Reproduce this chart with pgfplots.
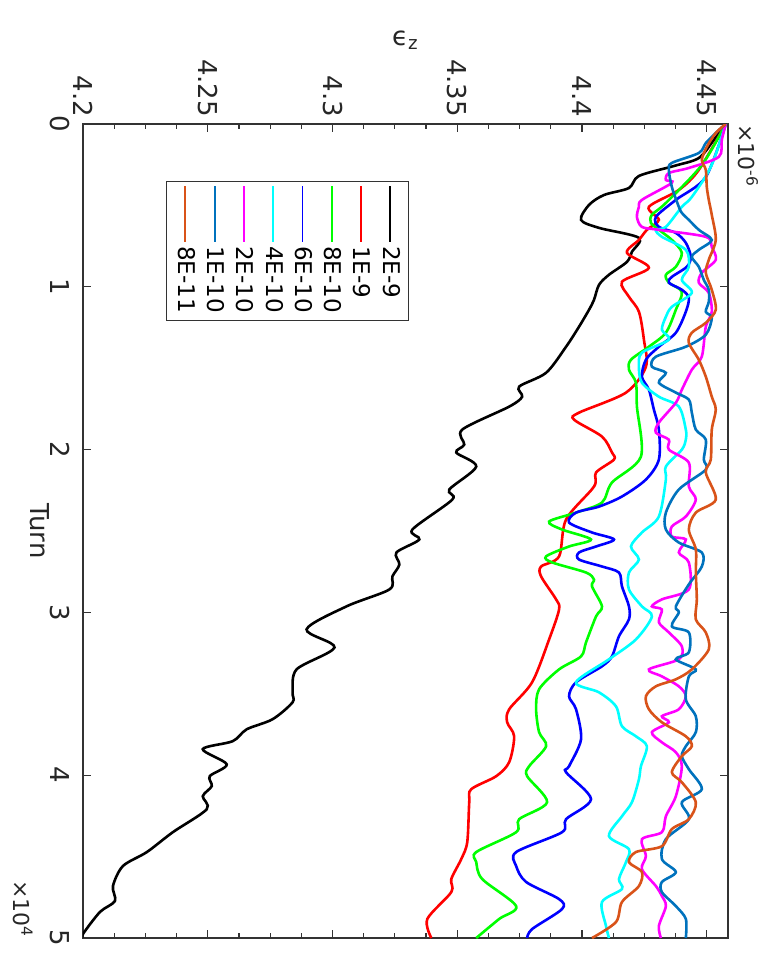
\documentclass[border=0pt]{standalone}
\usepackage{fontspec}
\setmainfont{DejaVu Sans}
\usepackage{graphicx}
\usepackage{pgfplots}
\pgfplotsset{compat=1.18}
\definecolor{mblue}{rgb}{0,0.447,0.741}
\definecolor{morange}{rgb}{0.85,0.325,0.098}
\definecolor{pcyan}{rgb}{0,1,1}
\definecolor{pmagenta}{rgb}{1,0,1}
\definecolor{pgreen}{rgb}{0,1,0}
\definecolor{pred}{rgb}{1,0,0}
\definecolor{pblue}{rgb}{0,0,1}

\begin{document}
\rotatebox{-90}{%
\begin{tikzpicture}
\begin{axis}[name=ax,
  scale only axis, width=407pt, height=322.5pt,
  xmin=0, xmax=5, ymin=4.2, ymax=4.4585,
  xtick={0,1,2,3,4,5}, xticklabels={0,1,2,3,4,5},
  ytick={4.2,4.25,4.3,4.35,4.4,4.45},
  yticklabels={4.2,4.25,4.3,4.35,4.4,4.45},
  minor y tick num=3,
  major tick length=4pt, minor tick length=2.5pt,
  tick style={black!80, line width=0.6pt},
  axis line style={black!80, line width=0.8pt},
  ticklabel style={font=\fontsize{13}{15}\selectfont, black!85},
  xticklabel style={yshift=-3pt},
  xlabel={Turn}, ylabel={ϵ\textsubscript{z}},
  label style={font=\fontsize{13}{15}\selectfont, black!85},
  xlabel style={at={(axis description cs:0.5,-0.0667)}, anchor=center},
  ylabel style={at={(axis description cs:-0.103,0.5)}, anchor=center},
  legend style={at={(0.070,0.129)}, anchor=south west, draw=black!80,
    line width=0.5pt, font=\fontsize{11.5}{13}\selectfont,
    inner xsep=2pt, inner ysep=2pt, nodes={inner xsep=1.5pt, inner ysep=2.3pt}},
  legend cell align=left,
  legend image code/.code={\draw[#1, line width=0.9pt] (0pt,0pt) -- (28pt,0pt);},
  every axis plot/.append style={line width=1.3pt, smooth},
]
% 2E-9
\addplot[black] coordinates {
(0,4.4576) (0.098,4.4528) (0.209,4.4468) (0.258,4.4368) (0.319,4.4228)
(0.393,4.4188) (0.436,4.4088) (0.497,4.4028) (0.589,4.3996) (0.638,4.4068)
(0.699,4.4228) (0.785,4.4200) (0.847,4.4180) (0.926,4.4108) (0.988,4.4068)
(1.080,4.4048) (1.141,4.4028) (1.245,4.3988) (1.368,4.3936) (1.528,4.3856)
(1.613,4.3748) (1.675,4.3760) (1.736,4.3708) (1.877,4.3520) (1.969,4.3528)
(2.018,4.3496) (2.104,4.3576) (2.245,4.3468) (2.307,4.3480) (2.491,4.3320)
(2.552,4.3348) (2.632,4.3256) (2.706,4.3268) (2.779,4.3240) (2.859,4.3228)
(2.963,4.3056) (3.104,4.2896) (3.215,4.3008) (3.350,4.2856) (3.491,4.2840)
(3.552,4.2840) (3.656,4.2760) (3.718,4.2656) (3.791,4.2600) (3.840,4.2480)
(3.933,4.2576) (4.006,4.2508) (4.067,4.2516) (4.129,4.2480) (4.209,4.2496)
(4.350,4.2360) (4.472,4.2256) (4.558,4.2160) (4.681,4.2120) (4.773,4.2128)
(4.840,4.2068) (4.975,4.2000) (5,4.2000)};
\addlegendentry{2E-9}
% 1E-9
\addplot[pred] coordinates {
(0,4.4576) (0.282,4.4468) (0.405,4.4388) (0.509,4.4268) (0.589,4.4308)
(0.650,4.4260) (0.712,4.4228) (0.791,4.4180) (0.883,4.4268) (0.969,4.4160)
(1.061,4.4188) (1.153,4.4228) (1.325,4.4248) (1.491,4.4256) (1.650,4.4176)
(1.773,4.3988) (1.816,4.3968) (1.920,4.4080) (2.018,4.4120) (2.061,4.4128)
(2.141,4.4056) (2.227,4.4048) (2.429,4.3936) (2.656,4.3908) (2.718,4.3836)
(2.779,4.3836) (2.920,4.3896) (2.982,4.3908) (3.166,4.3868) (3.429,4.3800)
(3.595,4.3708) (3.675,4.3700) (3.761,4.3728) (3.920,4.3708) (4.006,4.3656)
(4.086,4.3556) (4.166,4.3548) (4.411,4.3540) (4.515,4.3516) (4.638,4.3476)
(4.718,4.3476) (4.883,4.3380) (5,4.3396)};
\addlegendentry{1E-9}
% 8E-10
\addplot[pgreen] coordinates {
(0,4.4576) (0.252,4.4480) (0.485,4.4336) (0.558,4.4280) (0.607,4.4276)
(0.650,4.4308) (0.712,4.4360) (0.791,4.4400) (0.877,4.4376) (0.926,4.4336)
(0.975,4.4348) (1.031,4.4400) (1.141,4.4376) (1.282,4.4336) (1.368,4.4268)
(1.448,4.4196) (1.509,4.4188) (1.589,4.4216) (1.736,4.4220) (2.043,4.4236)
(2.202,4.4120) (2.325,4.4080) (2.387,4.3976) (2.442,4.3868) (2.491,4.3920)
(2.552,4.4036) (2.595,4.3948) (2.656,4.3856) (2.693,4.3880) (2.755,4.4016)
(2.798,4.4048) (2.840,4.4040) (2.963,4.4080) (3.025,4.4056) (3.184,4.4016)
(3.270,4.3996) (3.350,4.3908) (3.472,4.3828) (3.595,4.3816) (3.736,4.3828)
(3.822,4.3856) (3.945,4.3788) (4.006,4.3780) (4.166,4.3860) (4.270,4.3748)
(4.350,4.3736) (4.472,4.3576) (4.534,4.3576) (4.638,4.3600) (4.804,4.3736)
(4.883,4.3668) (5,4.3576)};
\addlegendentry{8E-10}
% 6E-10
\addplot[pblue] coordinates {
(0,4.4576) (0.325,4.4496) (0.466,4.4376) (0.571,4.4296) (0.632,4.4308)
(0.669,4.4376) (0.730,4.4416) (0.816,4.4436) (0.877,4.4420) (0.939,4.4360)
(0.975,4.4348) (1.018,4.4400) (1.067,4.4428) (1.153,4.4416) (1.282,4.4376)
(1.368,4.4308) (1.448,4.4256) (1.552,4.4240) (1.632,4.4268) (1.755,4.4288)
(1.877,4.4308) (2.061,4.4308) (2.184,4.4256) (2.288,4.4160) (2.350,4.4068)
(2.387,4.3976) (2.448,4.3948) (2.509,4.4040) (2.552,4.4128) (2.595,4.4056)
(2.632,4.3988) (2.675,4.3988) (2.718,4.4080) (2.755,4.4148) (2.840,4.4160)
(2.963,4.4188) (3.043,4.4188) (3.147,4.4148) (3.270,4.4120) (3.331,4.4080)
(3.429,4.3976) (3.515,4.3948) (3.595,4.3976) (3.779,4.3996) (3.945,4.3948)
(3.982,4.3936) (4.147,4.4036) (4.270,4.3936) (4.350,4.3920) (4.472,4.3736)
(4.558,4.3736) (4.656,4.3776) (4.761,4.3908) (4.822,4.3920) (4.945,4.3800)
(5,4.3780)};
\addlegendentry{6E-10}
% 4E-10
\addplot[pcyan] coordinates {
(0,4.4576) (0.264,4.4516) (0.448,4.4440) (0.509,4.4400) (0.632,4.4336)
(0.650,4.4296) (0.693,4.4320) (0.773,4.4416) (0.877,4.4428) (0.957,4.4400)
(1.037,4.4440) (1.123,4.4360) (1.184,4.4336) (1.264,4.4320) (1.325,4.4348)
(1.405,4.4240) (1.491,4.4228) (1.589,4.4240) (1.675,4.4308) (1.736,4.4388)
(1.877,4.4416) (1.939,4.4416) (2.000,4.4400) (2.104,4.4336) (2.184,4.4336)
(2.411,4.4308) (2.509,4.4240) (2.595,4.4196) (2.675,4.4228) (2.755,4.4188)
(2.859,4.4188) (2.963,4.4240) (3.025,4.4280) (3.166,4.4216) (3.288,4.4108)
(3.429,4.3976) (3.491,4.4068) (3.577,4.4136) (3.699,4.4160) (3.761,4.4216)
(3.822,4.4260) (3.945,4.4236) (4.025,4.4228) (4.166,4.4200) (4.252,4.4160)
(4.374,4.4108) (4.454,4.4188) (4.534,4.4176) (4.638,4.4148) (4.699,4.4160)
(4.779,4.4080) (4.926,4.4096) (5,4.4108)};
\addlegendentry{4E-10}
% 2E-10
\addplot[pmagenta] coordinates {
(0,4.4576) (0.098,4.4560) (0.202,4.4548) (0.270,4.4428) (0.301,4.4348)
(0.344,4.4336) (0.362,4.4360) (0.466,4.4240) (0.509,4.4228) (0.571,4.4220)
(0.632,4.4240) (0.650,4.4308) (0.693,4.4496) (0.755,4.4520) (0.834,4.4536)
(0.914,4.4480) (0.975,4.4468) (1.037,4.4508) (1.153,4.4520) (1.245,4.4496)
(1.429,4.4480) (1.509,4.4440) (1.632,4.4400) (1.712,4.4376) (1.834,4.4308)
(1.896,4.4296) (1.939,4.4348) (2.000,4.4348) (2.080,4.4428) (2.227,4.4428)
(2.307,4.4456) (2.411,4.4416) (2.472,4.4360) (2.534,4.4360) (2.552,4.4416)
(2.632,4.4388) (2.693,4.4428) (2.859,4.4428) (2.920,4.4320) (2.963,4.4280)
(2.982,4.4320) (3.061,4.4308) (3.123,4.4348) (3.209,4.4400) (3.288,4.4388)
(3.350,4.4268) (3.393,4.4320) (3.454,4.4388) (3.515,4.4416) (3.595,4.4388)
(3.638,4.4320) (3.675,4.4348) (3.736,4.4280) (3.798,4.4320) (3.859,4.4376)
(3.945,4.4400) (4.129,4.4376) (4.252,4.4336) (4.350,4.4320) (4.393,4.4240)
(4.497,4.4256) (4.577,4.4240) (4.681,4.4296) (4.742,4.4320) (4.804,4.4336)
(4.926,4.4308) (5,4.4316)};
\addlegendentry{2E-10}
% 1E-10
\addplot[mblue] coordinates {
(0,4.4576) (0.055,4.4536) (0.117,4.4496) (0.178,4.4468) (0.239,4.4360)
(0.282,4.4348) (0.387,4.4360) (0.509,4.4388) (0.546,4.4400) (0.589,4.4428)
(0.650,4.4468) (0.712,4.4520) (0.773,4.4468) (0.816,4.4440) (0.877,4.4468)
(0.957,4.4488) (1.018,4.4508) (1.092,4.4508) (1.153,4.4496) (1.190,4.4520)
(1.294,4.4496) (1.368,4.4416) (1.429,4.4296) (1.491,4.4280) (1.528,4.4336)
(1.589,4.4308) (1.650,4.4376) (1.693,4.4428) (1.773,4.4440) (1.877,4.4456)
(1.939,4.4496) (2.061,4.4488) (2.123,4.4496) (2.245,4.4388) (2.387,4.4336)
(2.491,4.4336) (2.571,4.4388) (2.632,4.4480) (2.718,4.4480) (2.828,4.4428)
(2.963,4.4376) (3.000,4.4388) (3.086,4.4360) (3.123,4.4428) (3.245,4.4428)
(3.288,4.4376) (3.350,4.4456) (3.393,4.4428) (3.534,4.4416) (3.638,4.4456)
(3.736,4.4456) (3.822,4.4416) (3.883,4.4400) (3.963,4.4428) (4.086,4.4480)
(4.166,4.4400) (4.270,4.4428) (4.393,4.4336) (4.515,4.4320) (4.595,4.4376)
(4.656,4.4320) (4.718,4.4320) (4.804,4.4376) (4.883,4.4416) (5,4.4416)};
\addlegendentry{1E-10}
% 8E-11
\addplot[morange] coordinates {
(0,4.4576) (0.055,4.4536) (0.141,4.4500) (0.221,4.4480) (0.282,4.4496)
(0.387,4.4500) (0.466,4.4508) (0.558,4.4520) (0.712,4.4536) (0.834,4.4508)
(0.914,4.4496) (1.018,4.4520) (1.141,4.4536) (1.221,4.4496) (1.282,4.4440)
(1.344,4.4428) (1.448,4.4468) (1.552,4.4496) (1.675,4.4520) (1.755,4.4536)
(1.877,4.4520) (2.061,4.4516) (2.141,4.4496) (2.307,4.4536) (2.387,4.4456)
(2.491,4.4428) (2.613,4.4456) (2.755,4.4456) (2.920,4.4460) (3.043,4.4456)
(3.123,4.4496) (3.227,4.4508) (3.350,4.4440) (3.411,4.4376) (3.454,4.4296)
(3.515,4.4256) (3.595,4.4268) (3.675,4.4320) (3.761,4.4416) (3.822,4.4440)
(3.883,4.4400) (3.982,4.4360) (4.043,4.4400) (4.166,4.4456) (4.270,4.4428)
(4.331,4.4360) (4.436,4.4320) (4.472,4.4216) (4.534,4.4188) (4.595,4.4240)
(4.681,4.4228) (4.779,4.4160) (4.902,4.4136) (5,4.4040)};
\addlegendentry{8E-11}
\end{axis}
\node[anchor=south west, inner sep=0pt, font=\fontsize{11}{13}\selectfont, black!85]
  at ([yshift=5pt]ax.north west) {×10\textsuperscript{-6}};
\node[anchor=north east, inner sep=0pt, font=\fontsize{11}{13}\selectfont, black!85]
  at ([yshift=-25pt]ax.south east) {×10\textsuperscript{4}};
\pgfresetboundingbox
\path[use as bounding box] ([xshift=-62pt,yshift=-41.5pt]ax.south west)
  rectangle ([xshift=13.5pt,yshift=21.5pt]ax.north east);
\end{tikzpicture}}
\end{document}
